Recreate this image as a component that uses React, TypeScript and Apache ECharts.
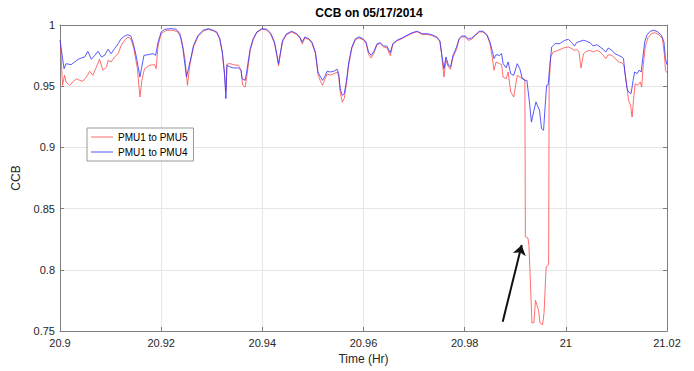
import React, { useEffect, useRef } from "react";
import * as echarts from "echarts";

const pmu5Time = [
  20.9001, 20.9005, 20.9009, 20.9012, 20.9019, 20.9026, 20.9032, 20.9039, 20.9045, 20.9052,
  20.9059, 20.9065, 20.9072, 20.9078, 20.9085, 20.9092, 20.9095, 20.9101, 20.9108, 20.9115,
  20.9121, 20.9128, 20.9134, 20.914, 20.9146, 20.9153, 20.9158, 20.9162, 20.9167, 20.9177,
  20.9187, 20.919, 20.9194, 20.92, 20.921, 20.9223, 20.9233, 20.924, 20.9247, 20.9252,
  20.9257, 20.9264, 20.9273, 20.9283, 20.9293, 20.9303, 20.931, 20.9316, 20.9321, 20.9325,
  20.9328, 20.933, 20.9336, 20.9343, 20.9353, 20.9358, 20.9361, 20.9366, 20.9369, 20.9376,
  20.9382, 20.9389, 20.9399, 20.9409, 20.9417, 20.9424, 20.9429, 20.9432, 20.9436, 20.944,
  20.9448, 20.9458, 20.9468, 20.9474, 20.9479, 20.9484, 20.9492,
  20.9498, 20.9505, 20.951, 20.9515, 20.9519, 20.9523, 20.9528, 20.9534, 20.9541, 20.9548,
  20.9551, 20.9554, 20.9558, 20.9562, 20.9566, 20.9571, 20.9577, 20.9584, 20.9591, 20.9599,
  20.9605, 20.961, 20.9615, 20.962, 20.9627, 20.9633, 20.964, 20.9646, 20.9653, 20.9658,
  20.9666, 20.9676, 20.9686, 20.9696, 20.9706, 20.9716, 20.9726, 20.9735, 20.9745, 20.9751,
  20.9754, 20.9759, 20.9763, 20.9768, 20.9772, 20.9777, 20.9784, 20.9789, 20.9794, 20.9801,
  20.9807, 20.9814, 20.982, 20.9829, 20.9836, 20.9844, 20.985, 20.9855, 20.9858, 20.9862,
  20.9869, 20.9873, 20.9876, 20.9882, 20.9886, 20.9891, 20.9897, 20.9904, 20.9909, 20.9917,
  20.9919, 20.992, 20.9925, 20.9927, 20.9929, 20.9933, 20.9937, 20.994, 20.9943, 20.9946,
  20.9949, 20.9954, 20.9957, 20.9961, 20.9966, 20.9967, 20.997, 20.9975, 20.9985, 20.9995,
  21.0005, 21.0012, 21.0017, 21.0022, 21.0026, 21.003, 21.0035, 21.0041, 21.0048, 21.0054,
  21.0061, 21.0068, 21.0074, 21.0079, 21.0084, 21.0091, 21.0097, 21.0104, 21.0111, 21.0115,
  21.012, 21.0124, 21.0128, 21.0131, 21.0134, 21.0137, 21.0142, 21.0147, 21.015, 21.0153,
  21.0157, 21.0162, 21.0169, 21.0176, 21.0184, 21.0191, 21.0195, 21.0197, 21.02,
];
const pmu5Ccb = [
  0.9848, 0.9507, 0.9589, 0.9534, 0.9507, 0.9534, 0.9561, 0.9548, 0.954, 0.9575,
  0.9622, 0.9589, 0.9657, 0.972, 0.963, 0.9657, 0.9711, 0.9698, 0.9739, 0.9766,
  0.9834, 0.9875, 0.9902, 0.9888, 0.9807, 0.9643, 0.9412, 0.9548, 0.9643, 0.9671,
  0.9676, 0.9643, 0.9834, 0.9929, 0.9957, 0.9957, 0.9943, 0.9888, 0.9725, 0.9507,
  0.968, 0.982, 0.9905, 0.995, 0.9965, 0.9952, 0.9935, 0.988, 0.9765, 0.96,
  0.946, 0.968, 0.9685, 0.9675, 0.967, 0.963, 0.951, 0.9493, 0.957, 0.979,
  0.988, 0.9938, 0.9965, 0.996, 0.992, 0.985, 0.974, 0.9665, 0.977, 0.9865,
  0.992, 0.9942, 0.9922, 0.9895, 0.9845, 0.9895, 0.988,
  0.985, 0.9765, 0.9595, 0.954, 0.9507, 0.955, 0.96, 0.959, 0.96, 0.9616,
  0.958, 0.9455, 0.937, 0.94, 0.951, 0.968, 0.981, 0.988, 0.9895, 0.988,
  0.985, 0.976, 0.973, 0.9765, 0.984, 0.9848, 0.982, 0.9815, 0.975, 0.984,
  0.987, 0.9888, 0.9912, 0.9932, 0.9945, 0.9922, 0.9922, 0.9915, 0.9895, 0.9865,
  0.9775, 0.9575, 0.9711, 0.9657, 0.9638, 0.9739, 0.98, 0.9883, 0.9902, 0.9902,
  0.9875, 0.9883, 0.991, 0.9943, 0.9943, 0.9916, 0.9848, 0.9725, 0.963, 0.9698,
  0.9684, 0.9676, 0.9575, 0.9561, 0.9616, 0.9453, 0.9412, 0.9589, 0.9575, 0.9561,
  0.9548, 0.827, 0.826, 0.82, 0.8, 0.7565, 0.757, 0.775, 0.771, 0.767,
  0.7565, 0.755, 0.765, 0.8025, 0.804, 0.952, 0.9739, 0.9779, 0.9793, 0.9812,
  0.982, 0.9807, 0.9793, 0.98, 0.9779, 0.9649, 0.9766, 0.9785, 0.9793, 0.9779,
  0.9793, 0.9779, 0.9752, 0.9725, 0.9757, 0.9752, 0.973, 0.9698, 0.9689, 0.9671,
  0.952, 0.9385, 0.9344, 0.9248, 0.9398, 0.952, 0.9507, 0.9534, 0.9493, 0.9671,
  0.982, 0.9894, 0.9929, 0.9937, 0.9921, 0.9888, 0.9752, 0.963, 0.961,
];

const pmu4Time = [
  20.9, 20.9008, 20.9012, 20.9022, 20.9029, 20.9036, 20.9042, 20.9049, 20.9055, 20.9062,
  20.9069, 20.9075, 20.9082, 20.9088, 20.9095, 20.9101, 20.9108, 20.9115, 20.9121, 20.9128,
  20.9134, 20.914, 20.9144, 20.9149, 20.9154, 20.9158, 20.9161, 20.9166, 20.9174, 20.9184,
  20.9189, 20.9194, 20.92, 20.9207, 20.922, 20.923, 20.9237, 20.9243, 20.925,
  20.9257, 20.9264, 20.9273, 20.9283, 20.9293, 20.9303, 20.931, 20.9316, 20.9321, 20.9325,
  20.9328, 20.933, 20.9336, 20.9343, 20.9353, 20.9358, 20.936, 20.9366, 20.9369, 20.9376,
  20.9382, 20.9389, 20.9399, 20.9409, 20.9417, 20.9424, 20.9429, 20.9432, 20.9436, 20.944,
  20.9448, 20.9458, 20.9468, 20.9474, 20.9479, 20.9484, 20.9492,
  20.9498, 20.9505, 20.951, 20.9515, 20.9519, 20.9523, 20.9528, 20.9534, 20.9541, 20.9548,
  20.9551, 20.9554, 20.9558, 20.9562, 20.9566, 20.9571, 20.9577, 20.9584, 20.9591, 20.9599,
  20.9605, 20.961, 20.9615, 20.962, 20.9627, 20.9633, 20.964, 20.9646, 20.9653, 20.9658,
  20.9666, 20.9676, 20.9686, 20.9696, 20.9706, 20.9716, 20.9726, 20.9735, 20.9745, 20.9751,
  20.9754, 20.9759, 20.9763, 20.9768, 20.9772, 20.9777, 20.9784, 20.9789, 20.9794, 20.9801,
  20.9807, 20.9814, 20.982, 20.9829, 20.9836, 20.9844, 20.985, 20.9856, 20.9858, 20.9862,
  20.9869, 20.9873, 20.9876, 20.9882, 20.9886, 20.9891, 20.9897, 20.9904, 20.9909, 20.9914,
  20.9919, 20.9923, 20.9928, 20.9932, 20.9937, 20.9941, 20.9943, 20.9948, 20.9952, 20.9956,
  20.9959, 20.9962, 20.9965, 20.9969, 20.9972, 20.9979, 20.9988,
  20.9998, 21.0005, 21.0012, 21.0017, 21.0021, 21.0028, 21.0035, 21.0041, 21.0048, 21.0054,
  21.0061, 21.0068, 21.0074, 21.0079, 21.0084, 21.0091, 21.0097, 21.0104, 21.0111, 21.0114,
  21.0117, 21.0121, 21.0124, 21.0129, 21.0133, 21.0136, 21.0141, 21.0145, 21.0149, 21.0152,
  21.0156, 21.016, 21.0167, 21.0174, 21.0182, 21.0189, 21.0194, 21.0197, 21.02,
];
const pmu4Ccb = [
  0.9875, 0.9643, 0.9684, 0.9676, 0.9698, 0.972, 0.973, 0.9739, 0.9785, 0.972,
  0.9752, 0.9785, 0.9739, 0.9752, 0.9801, 0.9766, 0.9807, 0.9848, 0.9888, 0.991,
  0.9921, 0.991, 0.9861, 0.9779, 0.9671, 0.9575, 0.9643, 0.9752, 0.9757, 0.9766,
  0.9752, 0.9861, 0.9943, 0.9965, 0.997, 0.9965, 0.9929, 0.9807, 0.9575,
  0.9698, 0.9834, 0.9916, 0.9957, 0.997, 0.9957, 0.9943, 0.9888, 0.9779, 0.9616,
  0.9398, 0.9671, 0.9657, 0.9649, 0.9649, 0.963, 0.9561, 0.9548, 0.9616, 0.9807,
  0.9888, 0.9943, 0.997, 0.9965, 0.9929, 0.9861, 0.9752, 0.9684, 0.9779, 0.9875,
  0.9929, 0.9949, 0.9929, 0.9902, 0.9861, 0.9902, 0.9888,
  0.9861, 0.9779, 0.9616, 0.9575, 0.9548, 0.9575, 0.9622, 0.9616, 0.9622, 0.9638,
  0.9602, 0.948, 0.9425, 0.9439, 0.9534, 0.9698, 0.982, 0.9888, 0.9902, 0.9888,
  0.9861, 0.9779, 0.9752, 0.9779, 0.9848, 0.9855, 0.9828, 0.9828, 0.9774, 0.9848,
  0.9875, 0.9894, 0.9916, 0.9937, 0.9949, 0.9929, 0.9929, 0.9921, 0.9902, 0.987,
  0.9779, 0.9643, 0.9739, 0.9671, 0.9657, 0.9752, 0.982, 0.9888, 0.991, 0.991,
  0.9888, 0.9894, 0.9916, 0.9949, 0.9949, 0.9921, 0.9861, 0.9766, 0.9725, 0.9757,
  0.9752, 0.9766, 0.9684, 0.9651, 0.9698, 0.9602, 0.9589, 0.9684, 0.9643, 0.9561,
  0.9548, 0.9548, 0.9371, 0.9207, 0.9303, 0.9371, 0.935, 0.9303, 0.9153, 0.914,
  0.933, 0.9507, 0.9512, 0.9698, 0.982, 0.9848, 0.9848,
  0.9875, 0.9883, 0.9855, 0.9828, 0.9855, 0.9867, 0.9875, 0.9867, 0.9855, 0.9828,
  0.9839, 0.982, 0.9801, 0.9779, 0.9812, 0.9793, 0.9766, 0.9752, 0.9739, 0.9725,
  0.9602, 0.948, 0.9453, 0.9439, 0.9548, 0.9616, 0.9602, 0.963, 0.9616, 0.9725,
  0.9861, 0.9916, 0.9949, 0.9957, 0.9943, 0.9916, 0.9861, 0.9725, 0.9676,
];

const xTicks = { min: 20.9, max: 21.02, interval: 0.02 };
const yTicks = { min: 0.75, max: 1, interval: 0.05 };
const arrowTail = [20.98752, 0.7576];
const arrowHead = [20.99128, 0.8203];

const zip = (t: number[], v: number[]) => t.map((x, i) => [x, v[i]]);

export default function App() {
  const ref = useRef<HTMLDivElement>(null);
  useEffect(() => {
    if (!ref.current) return;
    const chart = echarts.init(ref.current, null, { renderer: "svg" });
    const font = "'Liberation Sans', Arial, sans-serif";
    const axisColor = "#7f7f7f";
    const baseX = {
      type: "value",
      min: xTicks.min,
      max: xTicks.max,
      interval: xTicks.interval,
      axisLine: { show: true, lineStyle: { color: axisColor, width: 1 } },
      axisTick: { show: true, inside: true, length: 4, lineStyle: { color: axisColor } },
    };
    const baseY = {
      type: "value",
      min: yTicks.min,
      max: yTicks.max,
      interval: yTicks.interval,
      axisLine: { show: true, lineStyle: { color: axisColor, width: 1 } },
      axisTick: { show: true, inside: true, length: 4, lineStyle: { color: axisColor } },
    };
    chart.setOption({
      animation: false,
      backgroundColor: "#fff",
      title: {
        text: "CCB on 05/17/2014",
        left: 364,
        textAlign: "center",
        top: 2,
        textStyle: { fontFamily: font, fontSize: 12, fontWeight: "bold", color: "#000" },
      },
      grid: { left: 60, right: 27, top: 25, bottom: 40, containLabel: false },
      legend: {
        left: 87,
        top: 128,
        orient: "vertical",
        icon: "rect",
        itemWidth: 22,
        itemHeight: 1,
        itemGap: 5,
        padding: [4, 6, 4, 4],
        borderColor: "#999",
        borderWidth: 1,
        backgroundColor: "#fff",
        textStyle: { fontFamily: font, fontSize: 10, color: "#000" },
        data: ["PMU1 to PMU5", "PMU1 to PMU4"],
      },
      xAxis: [
        {
          ...baseX,
          position: "bottom",
          name: "Time (Hr)",
          nameLocation: "middle",
          nameGap: 22,
          nameTextStyle: { fontFamily: font, fontSize: 12, color: "#262626" },
          axisLabel: { fontFamily: font, fontSize: 11, color: "#262626", margin: 6 },
          splitLine: { show: true, lineStyle: { color: "#e6e6e6", width: 1 } },
        },
        {
          ...baseX,
          position: "top",
          axisLabel: { show: false },
          splitLine: { show: false },
        },
      ],
      yAxis: [
        {
          ...baseY,
          position: "left",
          name: "CCB",
          nameLocation: "middle",
          nameGap: 38,
          nameRotate: 90,
          nameTextStyle: { fontFamily: font, fontSize: 12, color: "#262626" },
          axisLabel: { fontFamily: font, fontSize: 11, color: "#262626", margin: 5 },
          splitLine: { show: true, lineStyle: { color: "#e6e6e6", width: 1 } },
        },
        {
          ...baseY,
          position: "right",
          axisLabel: { show: false },
          splitLine: { show: false },
        },
      ],
      series: [
        {
          name: "PMU1 to PMU5",
          type: "line",
          symbol: "none",
          xAxisIndex: 0,
          yAxisIndex: 0,
          data: zip(pmu5Time, pmu5Ccb),
          lineStyle: { color: "#ff4a4a", width: 1, opacity: 0.8 },
          itemStyle: { color: "#ff6a6a" },
          markLine: {
            silent: true,
            symbol: ["none", "arrow"],
            symbolSize: 10,
            symbolOffset: 0,
            label: { show: false },
            lineStyle: { color: "#111", width: 2, type: "solid", opacity: 1 },
            itemStyle: { color: "#111" },
            emphasis: { disabled: true },
            data: [[{ coord: arrowTail }, { coord: arrowHead }]],
          },
        },
        {
          name: "PMU1 to PMU4",
          type: "line",
          symbol: "none",
          xAxisIndex: 0,
          yAxisIndex: 0,
          data: zip(pmu4Time, pmu4Ccb),
          lineStyle: { color: "#3030ff", width: 1, opacity: 0.8 },
          itemStyle: { color: "#5050ff" },
        },
      ],
    });
    return () => chart.dispose();
  }, []);
  return <div ref={ref} style={{ width: 694, height: 371, position: "absolute", left: 0, top: 0 }} />;
}
